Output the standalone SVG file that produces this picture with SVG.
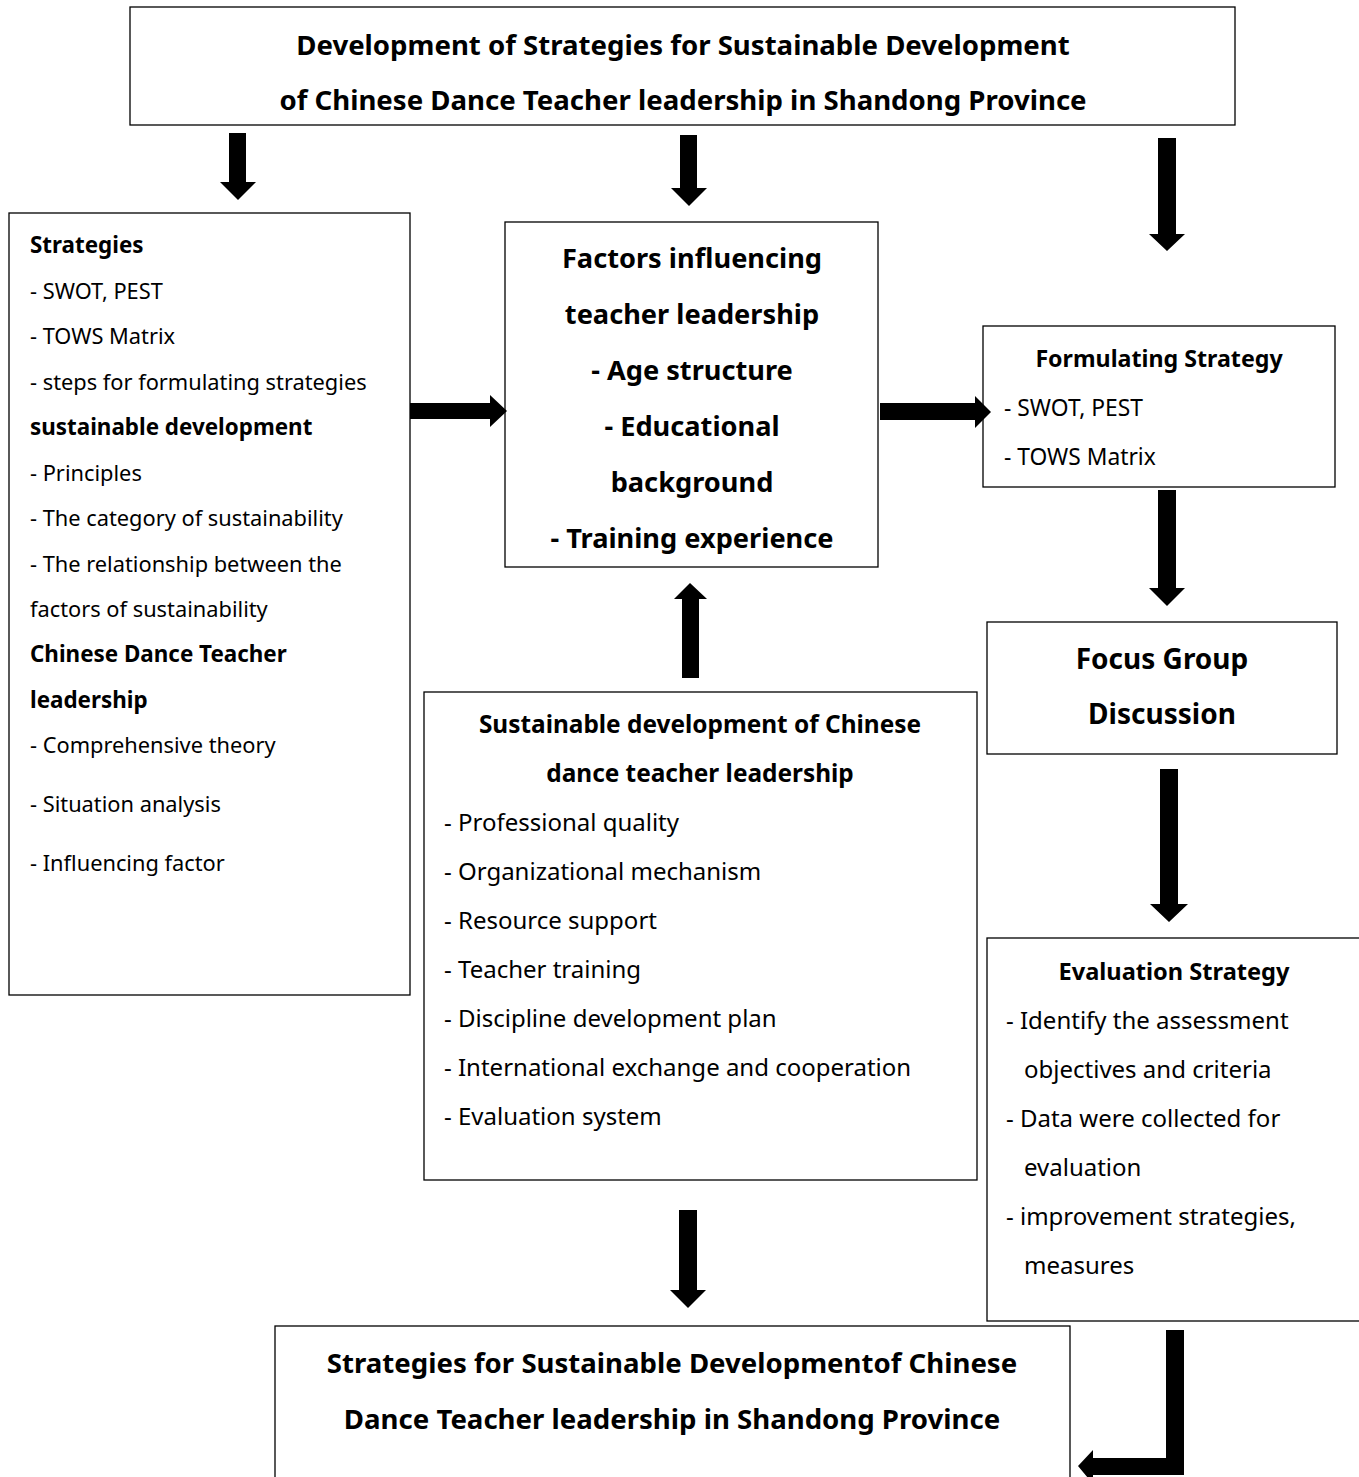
<svg xmlns="http://www.w3.org/2000/svg" width="1359" height="1477" viewBox="0 0 1359 1477">
<style>
.box{fill:#fff;stroke:#000;stroke-width:1.3}
text{font-family:"Noto Sans","Open Sans","DejaVu Sans",sans-serif;fill:#000}
.t{font-size:27.6px;font-weight:bold;text-anchor:middle}
.l{font-size:21.8px}
.lb{font-size:22.4px;font-weight:bold}
.f{font-size:27.2px;font-weight:bold;text-anchor:middle}
.s{font-size:24px}
.sb{font-size:24.4px;font-weight:bold;text-anchor:middle}
.e{font-size:22.8px}
.arr{fill:#000}
</style>
<rect width="1359" height="1477" fill="#fff"/>
<g id="n_title">
<rect class="box" x="130" y="7" width="1105" height="118"/>
<text class="t" x="683" y="55">Development of Strategies for Sustainable Development</text>
<text class="t" x="683" y="110">of Chinese Dance Teacher leadership in Shandong Province</text>
</g>
<g id="n_strategies">
<rect class="box" x="9" y="213" width="401" height="782"/>
<text class="lb" x="30" y="253">Strategies</text>
<text class="l" x="30" y="299">- SWOT, PEST</text>
<text class="l" x="30" y="344">- TOWS Matrix</text>
<text class="l" x="30" y="390">- steps for formulating strategies</text>
<text class="lb" x="30" y="435">sustainable development</text>
<text class="l" x="30" y="481">- Principles</text>
<text class="l" x="30" y="526">- The category of sustainability</text>
<text class="l" x="30" y="572">- The relationship between the</text>
<text class="l" x="30" y="617">factors of sustainability</text>
<text class="lb" x="30" y="662">Chinese Dance Teacher</text>
<text class="lb" x="30" y="708">leadership</text>
<text class="l" x="30" y="753">- Comprehensive theory</text>
<text class="l" x="30" y="812">- Situation analysis</text>
<text class="l" x="30" y="871">- Influencing factor</text>
</g>
<g id="n_factors">
<rect class="box" x="505" y="222" width="373" height="345"/>
<text class="f" x="692" y="268">Factors influencing</text>
<text class="f" x="692" y="324">teacher leadership</text>
<text class="f" x="692" y="380">- Age structure</text>
<text class="f" x="692" y="436">- Educational</text>
<text class="f" x="692" y="492">background</text>
<text class="f" x="692" y="548">- Training experience</text>
</g>
<g id="n_formulating">
<rect class="box" x="983" y="326" width="352" height="161"/>
<text class="sb" x="1159" y="367" style="font-size:23.2px">Formulating Strategy</text>
<text class="e" x="1004" y="416">- SWOT, PEST</text>
<text class="e" x="1004" y="465">- TOWS Matrix</text>
</g>
<g id="n_focus">
<rect class="box" x="987" y="622" width="350" height="132"/>
<text class="f" x="1162" y="669" style="font-size:28px">Focus Group</text>
<text class="f" x="1162" y="724" style="font-size:28px">Discussion</text>
</g>
<g id="n_sustainable">
<rect class="box" x="424" y="692" width="553" height="488"/>
<text class="sb" x="700" y="733">Sustainable development of Chinese</text>
<text class="sb" x="700" y="782">dance teacher leadership</text>
<text class="s" x="444" y="831">- Professional quality</text>
<text class="s" x="444" y="880">- Organizational mechanism</text>
<text class="s" x="444" y="929">- Resource support</text>
<text class="s" x="444" y="978">- Teacher training</text>
<text class="s" x="444" y="1027">- Discipline development plan</text>
<text class="s" x="444" y="1076">- International exchange and cooperation</text>
<text class="s" x="444" y="1125">- Evaluation system</text>
</g>
<g id="n_evaluation">
<rect class="box" x="987" y="938" width="380" height="383"/>
<text class="sb" x="1174" y="980" style="font-size:23.6px">Evaluation Strategy</text>
<text class="s" x="1006" y="1029">- Identify the assessment</text>
<text class="s" x="1024" y="1078">objectives and criteria</text>
<text class="s" x="1006" y="1127">- Data were collected for</text>
<text class="s" x="1024" y="1176">evaluation</text>
<text class="s" x="1006" y="1225">- improvement strategies,</text>
<text class="s" x="1024" y="1274">measures</text>
</g>
<g id="n_final">
<rect class="box" x="275" y="1326" width="795" height="170"/>
<text class="t" x="672" y="1373">Strategies for Sustainable Developmentof Chinese</text>
<text class="t" x="672" y="1429">Dance Teacher leadership in Shandong Province</text>
</g>
<g id="connectors" class="arr">
<polygon points="229,133 246,133 246,182 256,182 238,200 220,182 229,182"/>
<polygon points="680,135 697,135 697,188 707,188 689,206 671,188 680,188"/>
<polygon points="1158,138 1176,138 1176,234 1185,234 1167,251 1149,234 1158,234"/>
<polygon points="410,403 490,403 490,395 507,411 490,427 490,419 410,419"/>
<polygon points="880,403 975,403 975,396 991,412 975,428 975,420 880,420"/>
<polygon points="682,678 699,678 699,599 707,599 690,583 674,599 682,599"/>
<polygon points="1158,490 1176,490 1176,588 1185,588 1167,606 1149,588 1158,588"/>
<polygon points="1160,769 1178,769 1178,904 1188,904 1169,922 1150,904 1160,904"/>
<polygon points="679,1210 697,1210 697,1290 706,1290 688,1308 670,1290 679,1290"/>
<polygon points="1166,1330 1184,1330 1184,1475 1093,1475 1093,1484 1078,1466 1093,1450 1093,1458 1166,1458"/>
</g>
</svg>
